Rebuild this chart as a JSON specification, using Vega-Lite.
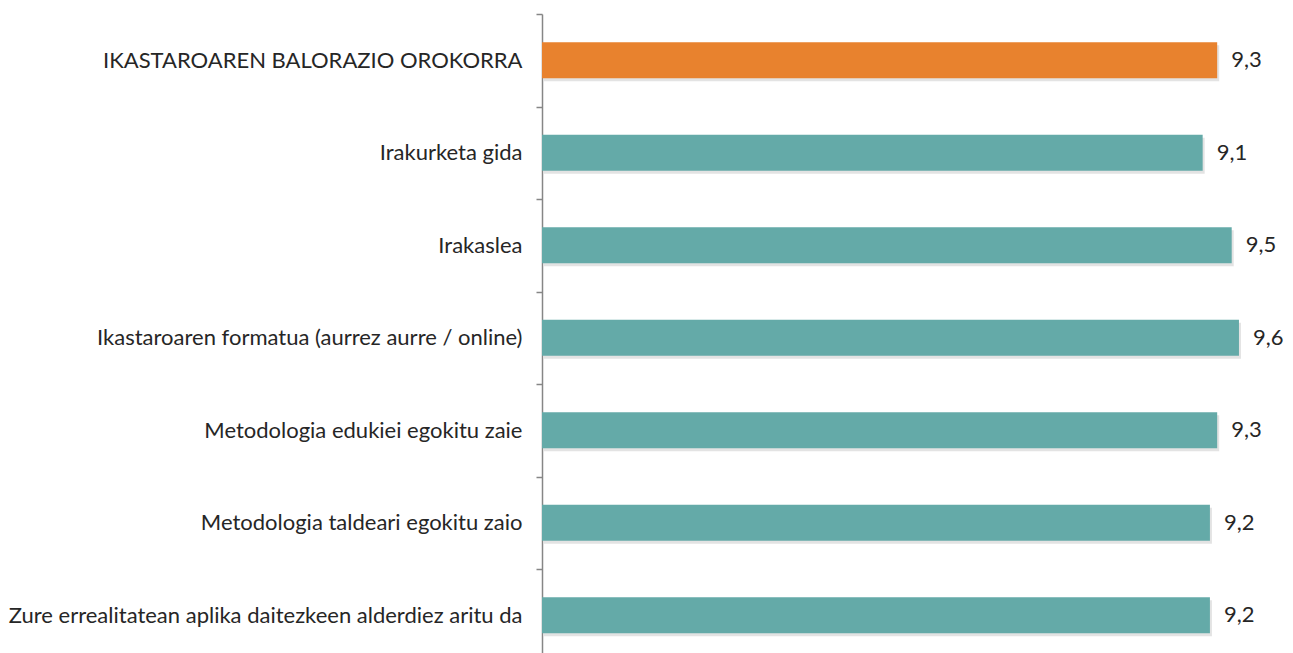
{
  "$schema": "https://vega.github.io/schema/vega-lite/v6.json",
  "autosize": {"type": "none"},
  "width": 726,
  "height": 639,
  "padding": {"left": 542, "top": 14, "right": 25, "bottom": 0},
  "background": "white",
  "config": {
    "view": {"stroke": null},
    "locale": {"number": {"decimal": ",", "thousands": ".", "grouping": [3], "currency": ["", " €"]}}
  },
  "data": {
    "values": [
      {"item": "IKASTAROAREN BALORAZIO OROKORRA", "value": 9.3, "group": "total"},
      {"item": "Irakurketa gida", "value": 9.1, "group": "item"},
      {"item": "Irakaslea", "value": 9.5, "group": "item"},
      {"item": "Ikastaroaren formatua (aurrez aurre / online)", "value": 9.6, "group": "item"},
      {"item": "Metodologia edukiei egokitu zaie", "value": 9.3, "group": "item"},
      {"item": "Metodologia taldeari egokitu zaio", "value": 9.2, "group": "item"},
      {"item": "Zure errealitatean aplika daitezkeen alderdiez aritu da", "value": 9.2, "group": "item"}
    ]
  },
  "encoding": {
    "y": {
      "field": "item",
      "type": "nominal",
      "sort": null,
      "scale": {"paddingInner": 0, "paddingOuter": 0, "range": [0, 647.5]},
      "axis": {
        "title": null,
        "domainColor": "#868686",
        "domainWidth": 1.5,
        "tickColor": "#868686",
        "tickWidth": 1.5,
        "tickSize": 6,
        "tickBand": "extent",
        "labelPadding": 14,
        "labelFont": "Lato",
        "labelFontSize": 22,
        "labelColor": "#262626",
        "labelLimit": 600
      }
    },
    "x": {
      "field": "value",
      "type": "quantitative",
      "scale": {"domain": [0, 10], "nice": false},
      "axis": null
    }
  },
  "layer": [
    {
      "mark": {"type": "bar", "size": 36, "color": "#c8c8c8", "opacity": 0.5, "yOffset": 3, "xOffset": 2},
      "encoding": {}
    },
    {
      "mark": {"type": "bar", "size": 36},
      "encoding": {
        "color": {
          "field": "group",
          "type": "nominal",
          "scale": {"domain": ["total", "item"], "range": ["#E8822E", "#64AAA8"]},
          "legend": null
        }
      }
    },
    {
      "mark": {"type": "text", "align": "left", "dx": 14, "font": "Lato", "fontSize": 22, "color": "#262626"},
      "encoding": {
        "text": {"field": "value", "type": "quantitative", "format": ".1f"}
      }
    }
  ]
}
